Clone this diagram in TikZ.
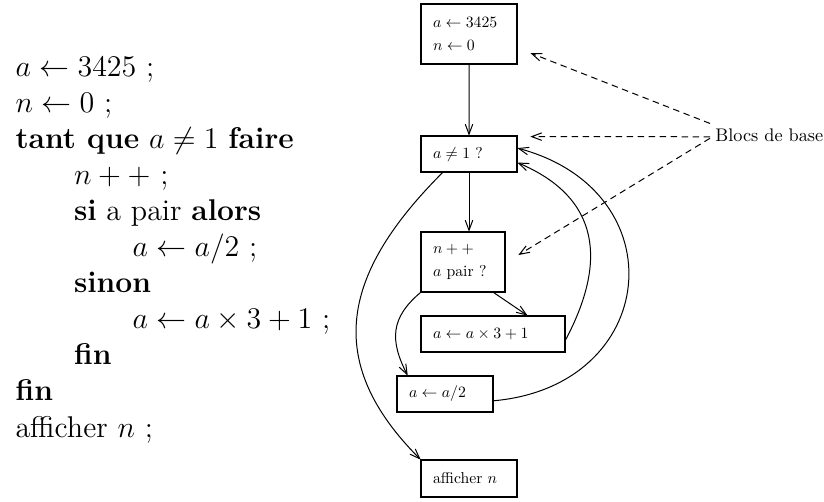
\documentclass[tikz,border=0pt]{standalone}
\usepackage{amsmath}
\usetikzlibrary{arrows.meta,calc}

\begin{document}
\begin{tikzpicture}[x=0.4pt, y=0.4pt,
  >={Straight Barb[length=4pt,width=3pt]},
  bloc/.style={draw, line width=0.45pt, align=left, inner xsep=7.6pt, inner ysep=0pt,
    scale=0.63, transform shape, font=\fontsize{10}{14.6}\selectfont},
  fleche/.style={->, line width=0.4pt},
  renvoi/.style={->, line width=0.4pt, dash pattern=on 2.6pt off 1.8pt}]
  \useasboundingbox (0,0) rectangle (824,-501);
  % l'algorithme
  \foreach \ind/\ligne [count=\i] in {0/{$a \leftarrow 3425$ ;}, 0/{$n \leftarrow 0$ ;},
      0/{\textbf{tant que} $a \neq 1$ \textbf{faire}}, 1/{$n++$ ;},
      1/{\textbf{si} a pair \textbf{alors}}, 2/{$a \leftarrow a/2$ ;}, 1/{\textbf{sinon}},
      2/{$a \leftarrow a \times 3 + 1$ ;}, 1/{\textbf{fin}}, 0/{\textbf{fin}},
      0/{afficher $n$ ;}}
    \node[anchor=base west, inner sep=0pt, font=\fontsize{12}{14}\selectfont]
      (l\i) at ({15+58.5*\ind}, {-76-36.1*(\i-1)}) {\ligne};
  % les blocs
  \node[bloc, text width=45.7pt, minimum height=38.1pt] (b1) at (469,-34) {$a \leftarrow 3425$\\ $n \leftarrow 0$};
  \node[bloc, text width=45.7pt, minimum height=22.9pt] (b2) at (469,-154) {$a \neq 1$ ?};
  \node[bloc, text width=38.1pt, minimum height=38.1pt] (b3) at (463,-262) {$n++$\\ $a$ pair ?};
  \node[bloc, text width=76.2pt, minimum height=22.9pt] (b4) at (493,-334) {$a \leftarrow a \times 3 + 1$};
  \node[bloc, text width=45.7pt, minimum height=22.9pt] (b5) at (445,-394) {$a \leftarrow a/2$};
  \node[bloc, text width=45.7pt, minimum height=23.5pt] (b6) at (469,-478.5) {afficher $n$};
  % les liens
  \draw[fleche] (b1) -- (b2);
  \draw[fleche] (b2.south) -- (b2.south |- b3.north);
  \draw[fleche] (b3.-45) -- (b4.28);
  \draw[fleche] (b3.south west) to[out=220, in=117, looseness=1.2] ($(b5.north west)+(11,0)$);
  \draw[fleche] (b4.-5) to[out=62, in=-23, looseness=1.25] (b2.-10);
  \draw[fleche] (b5.-8) to[out=5, in=-15, looseness=1.68] (b2.7);
  \draw[fleche] (b2.215) to[out=225, in=135, looseness=1.25] (b6.north west);
  % la legende
  \node[anchor=base west, inner sep=0pt, scale=0.73, transform shape,
    font=\fontsize{10}{12}\selectfont] (blocs) at (715,-141.5) {Blocs de base};
  \coordinate (c1) at ($(b1.east)+(13,-19)$);
  \coordinate (c2) at ($(b2.north east)+(13,-1)$);
  \coordinate (c3) at ($(b3.east)+(13,7)$);
  \draw[renvoi] ($(blocs.north west)+(-5,5)$) -- (c1);
  \draw[renvoi] ($(blocs.west)+(-5,-1.5)$) -- (c2);
  \draw[renvoi] ($(blocs.west)+(-5,-3)$) -- (c3);
\end{tikzpicture}
\end{document}
